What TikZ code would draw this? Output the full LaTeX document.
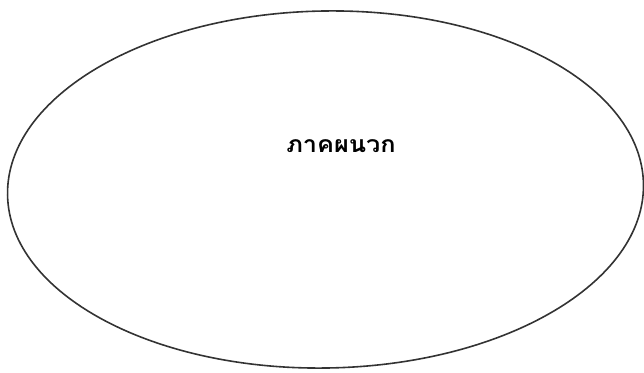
\documentclass[tikz,border=0pt]{standalone}
\usepackage{fontspec}
\usepackage{graphicx}
\newfontfamily\thaifont[Script=Thai]{Loma}
\begin{document}
\begin{tikzpicture}[x=1pt,y=1pt]
\useasboundingbox (0,0) rectangle (644,372);
\tikzset{oval/.style={draw=black!80,line width=1.6pt},
  label/.style={font=\thaifont\fontsize{23}{26}\selectfont\bfseries, inner sep=0pt}}
\draw[oval] (325.5,182.5) ellipse [x radius=318, y radius=178.5, rotate=1];
\node[label] (t) at (341,226) {\scalebox{1.1}[1]{ภาคผนวก}};
\end{tikzpicture}
\end{document}
